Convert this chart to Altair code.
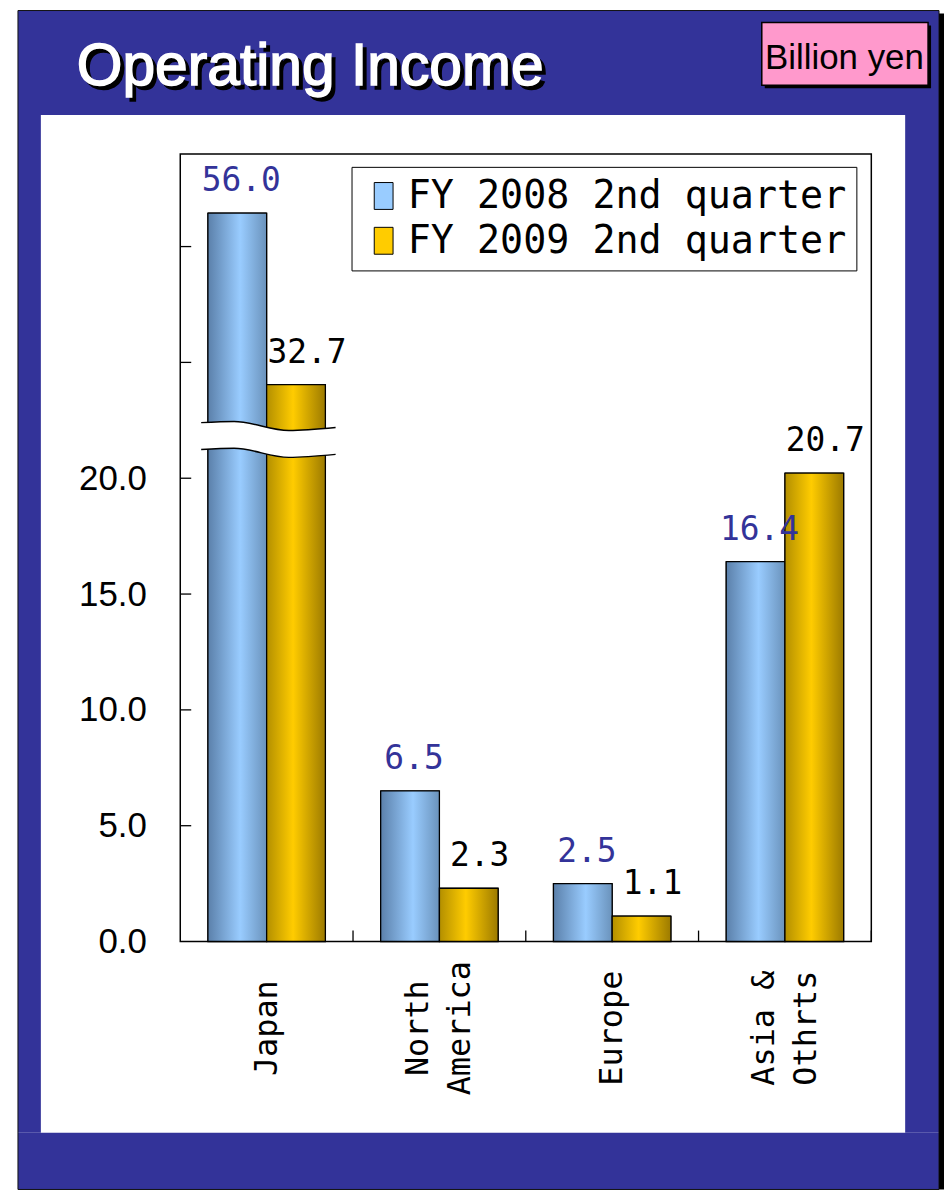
import altair as alt
import pandas as pd

# ---------------- data ----------------
regions = ["Japan", "North America", "Europe", "Asia & Othrts"]
region_text = ["Japan", "North|America", "Europe", "Asia &|Othrts"]   # '|' = line break
series = ["FY 2008 2nd quarter", "FY 2009 2nd quarter"]
fy2008 = [56.0, 6.5, 2.5, 16.4]
fy2009 = [32.7, 2.3, 1.1, 20.7]
y_ticks = [0, 5, 10, 15, 20, 25, 30]          # axis positions (broken above 20)
break_at = 20.0                                 # values above this are compressed
break_ratio = 0.318                             # compression above the break
# wavy break marker: x along the plot (px), display-unit heights of its two edges
break_px = [21, 54, 109, 156]
break_top = [22.40, 22.45, 22.06, 22.19]
break_bot = [21.24, 21.29, 20.90, 21.03]


def shown(v):
    return v if v <= break_at else break_at + (v - break_at) * break_ratio


rows = []
for s, vals in zip(series, [fy2008, fy2009]):
    for r, v in zip(regions, vals):
        rows.append({"region": r, "series": s, "value": v, "disp": shown(v), "label": f"{v:.1f}"})
df = pd.DataFrame(rows)
ticks_df = pd.DataFrame({"t": [t for t in y_ticks if t > 0]})
reg_df = pd.DataFrame({"region": regions, "lines": region_text})
brk_area = pd.DataFrame({"bx": break_px, "top": break_top, "bot": break_bot})
brk_lines = pd.DataFrame(
    {"bx": break_px * 2, "by": break_top + break_bot, "edge": ["a"] * 4 + ["b"] * 4}
)
one = pd.DataFrame({"k": [0]})

# ---------------- layout ----------------
W, H = 694, 791
PAD = {"left": 173, "top": 144, "right": 73, "bottom": 249}
MONO = "DejaVu Sans Mono"
SANS = "Liberation Sans"
NAVY = "#333399"
LINE_H = 42

xscale = alt.Scale(domain=regions, paddingInner=0.32, paddingOuter=0.16)
oscale = alt.Scale(domain=series, paddingInner=0, paddingOuter=0)
yscale = alt.Scale(domain=[0, 34], nice=False, zero=True)
pxscale = alt.Scale(domain=[0, W], nice=False, zero=False)

y_axis = alt.Axis(
    title=None, values=y_ticks, ticks=False, domain=False, grid=False,
    labelExpr="datum.value <= 20 ? format(datum.value, '.1f') : ''",
    labelPadding=34, labelFont=SANS, labelFontSize=35, labelColor="black",
)


def rect(x, x2, y, y2, **kw):
    return alt.Chart(one).mark_rect(**kw).encode(
        x=alt.value(x), x2=alt.value(x2), y=alt.value(y), y2=alt.value(y2)
    )


def label(txt, x, y, **kw):
    return alt.Chart(one).mark_text(**kw).encode(
        x=alt.value(x), y=alt.value(y), text=alt.value(txt)
    )


# ---------------- decorations (navy frame around a white panel) ----------------
decos = [
    rect(-163, 762, -144, -39, fill=NAVY),      # top band
    rect(-163, 762, 983, 1040, fill=NAVY),      # bottom band
    rect(-163, -140, -39, 983, fill=NAVY),      # left band
    rect(728, 762, -39, 983, fill=NAVY),        # right band
    rect(-163, 762, -144, 1040, fill="transparent", stroke="#111111", strokeWidth=1),
    rect(762, 767, -141, 1040, fill="black"),   # right shadow
    rect(587, 754, -129, -66, fill="black"),    # unit box shadow
    rect(584, 751, -132, -69, fill="#ff99cc", stroke="black", strokeWidth=1.5),
    label("Billion yen", 667, -85, font=SANS, fontSize=35, color="black",
          align="center", baseline="alphabetic"),
    label("Operating Income", -100, -65, font=SANS, fontSize=59, color="black",
          stroke="black", strokeWidth=1.5, align="left", baseline="alphabetic"),
    label("Operating Income", -104, -69, font=SANS, fontSize=59, color="white",
          stroke="white", strokeWidth=1.5, align="left", baseline="alphabetic"),
]

# ---------------- bars ----------------
base = alt.Chart(df)
X = alt.X("region:N", scale=xscale, sort=regions, axis=None)
XO = alt.XOffset("series:N", scale=oscale, sort=series)
Y = alt.Y("disp:Q", scale=yscale, axis=y_axis)

legend_bars = base.mark_bar(stroke="black", strokeWidth=1).encode(
    x=X, xOffset=XO, y=Y,
    color=alt.Color(
        "series:N", scale=alt.Scale(domain=series, range=["#99ccff", "#ffcc00"]),
        legend=alt.Legend(
            title=None, orient="none", legendX=172, legendY=13, fillColor="white",
            strokeColor="black", padding=10, cornerRadius=0,
            symbolType="M-0.7,-1H0.7V1H-0.7Z", symbolSize=729,
            symbolStrokeColor="black", symbolStrokeWidth=1, symbolOffset=3,
            labelOffset=5, labelFont=MONO, labelFontSize=38.5, labelColor="black",
            labelLimit=600, rowPadding=6,
        ),
    ),
)

blue_grad = alt.LinearGradient(
    gradient="linear", x1=0, x2=1, y1=0, y2=0,
    stops=[alt.GradientStop(color="#5b80aa", offset=0),
           alt.GradientStop(color="#99ccff", offset=0.55),
           alt.GradientStop(color="#6a92bb", offset=1)],
)
gold_grad = alt.LinearGradient(
    gradient="linear", x1=0, x2=1, y1=0, y2=0,
    stops=[alt.GradientStop(color="#b38f00", offset=0),
           alt.GradientStop(color="#ffcc00", offset=0.45),
           alt.GradientStop(color="#9c7a00", offset=1)],
)


def bar_layer(s, grad):
    return base.transform_filter(alt.datum.series == s).mark_bar(
        fill=grad, stroke="black", strokeWidth=1.3
    ).encode(x=X, xOffset=XO, y=Y)


def text_layer(s, col, dx):
    return base.transform_filter(alt.datum.series == s).mark_text(
        font=MONO, fontSize=33, color=col, align="center", baseline="alphabetic",
        dx=dx, dy=-22,
    ).encode(x=X, xOffset=XO, y=Y, text="label:N")


main = alt.layer(legend_bars, bar_layer(series[0], blue_grad), bar_layer(series[1], gold_grad))

# ---------------- broken-axis marker ----------------
brk_fill = alt.Chart(brk_area).mark_area(fill="white", interpolate="monotone").encode(
    x=alt.X("bx:Q", scale=pxscale, axis=None),
    y=alt.Y("top:Q", scale=yscale, axis=y_axis),
    y2="bot:Q",
)
brk_edge = alt.Chart(brk_lines).mark_line(
    color="black", strokeWidth=1.5, interpolate="monotone"
).encode(
    x=alt.X("bx:Q", scale=pxscale, axis=None),
    y=alt.Y("by:Q", scale=yscale, axis=y_axis),
    detail="edge:N",
)
brk = alt.layer(brk_fill, brk_edge)

# ---------------- frame, inside ticks, category labels, value labels ----------------
frame = rect(0, W, 0, H, fill="transparent", stroke="black", strokeWidth=1.5)
xticks = alt.Chart(reg_df).mark_rule(color="black", strokeWidth=1.3, xOffset=86.75).encode(
    x=X, y=alt.value(H - 11), y2=alt.value(H),
)
yticks = alt.Chart(ticks_df).mark_rule(color="black", strokeWidth=1.3).encode(
    y=alt.Y("t:Q", scale=yscale, axis=y_axis),
    x=alt.value(0), x2=alt.value(11),
)


def xlabel_layer(two_lines):
    test = "indexof(datum.lines, '|') >= 0"
    return alt.Chart(reg_df).transform_filter(test if two_lines else f"!({test})").mark_text(
        angle=270, align="center", baseline="middle", lineBreak="|", lineHeight=LINE_H,
        font=MONO, fontSize=32, color="black", dy=-LINE_H / 2 if two_lines else 0,
    ).encode(x=X, y=alt.value(H + 87), text="lines:N")


top = alt.layer(
    frame, xticks, yticks, xlabel_layer(False), xlabel_layer(True),
    text_layer(series[0], NAVY, 4), text_layer(series[1], "black", 11),
)

chart = alt.layer(*decos, main, brk, top).resolve_scale(x="independent").properties(
    width=W, height=H, autosize=alt.AutoSizeParams(type="none"), padding=PAD,
    background="white",
).configure_view(stroke=None)

chart.save("out.html", embed_options={"renderer": "svg", "actions": False})
